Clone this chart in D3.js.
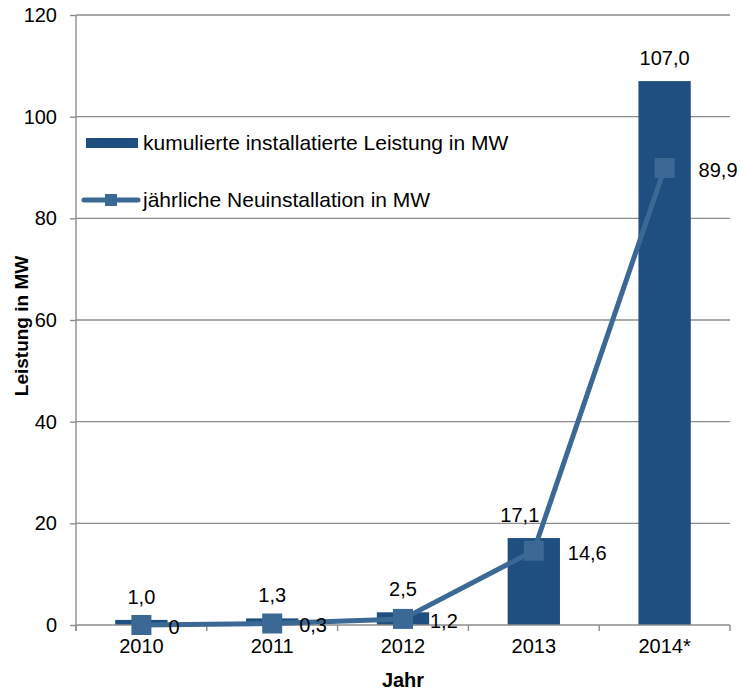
<!DOCTYPE html>
<html>
<head>
<meta charset="utf-8">
<script src="https://cdn.jsdelivr.net/npm/d3@7"></script>
<style>
  body { margin: 0; background: #fff; }
  text { font-family: "Liberation Sans", Arial, sans-serif; fill: #000; }
</style>
</head>
<body>
<svg id="chart" width="741" height="692"></svg>
<script>
"use strict"

// Daten
const years = ["2010", "2011", "2012", "2013", "2014*"]
const kumuliert = [1.0, 1.3, 2.5, 17.1, 107.0]
const neuinstallation = [0, 0.3, 1.2, 14.6, 89.9]
const yTicks = [0, 20, 40, 60, 80, 100, 120]
const legendLabels = ["kumulierte installatierte Leistung in MW", "jährliche Neuinstallation in MW"]

const margin = {top: 15, right: 11, bottom: 67, left: 76}
const width = 741 - margin.left - margin.right
const height = 692 - margin.top - margin.bottom

const barColor = "#1f4e80"
const lineColor = "#3b6894"
const gridColor = "#8c8c8c"

const de = d3.formatLocale({decimal: ",", thousands: ".", grouping: [3], currency: ["", " €"]})
const fmtBar = de.format(".1f")
const fmtLine = de.format(".1~f")

const svg = d3.select("#chart")
const g = svg.append("g").attr("transform", "translate(" + margin.left + "," + margin.top + ")")

const x = d3.scaleBand().domain(years).range([0, width]).paddingInner(0).paddingOuter(0)
const y = d3.scaleLinear().domain([0, 120]).range([height, 0])
const barWidth = x.bandwidth() * 0.4

// Gitternetz
g.append("g")
    .selectAll("line")
    .data(yTicks.filter(d => d > 0))
    .enter()
    .append("line")
    .attr("x1", 0)
    .attr("x2", width)
    .attr("y1", d => y(d))
    .attr("y2", d => y(d))
    .style("stroke", gridColor)
    .style("stroke-width", 1.4)

// Balken
g.selectAll(".bar")
    .data(kumuliert)
    .enter()
    .append("rect")
    .attr("class", "bar")
    .attr("x", (d, i) => x(years[i]) + (x.bandwidth() - barWidth) / 2)
    .attr("width", barWidth)
    .attr("y", d => y(d))
    .attr("height", d => y(0) - y(d))
    .style("fill", barColor)

// Achsen
const yAxis = d3.axisLeft(y).tickValues(yTicks).tickSize(6).tickPadding(13)
g.append("g")
    .attr("class", "y axis")
    .call(yAxis)
    .call(a => a.select(".domain").attr("d", "M0,0V" + (height + 6)))

const xAxis = d3.axisBottom(x).tickSize(0).tickPadding(14)
g.append("g")
    .attr("class", "x axis")
    .attr("transform", "translate(0," + height + ")")
    .call(xAxis)
    .call(a => a.select(".domain").attr("d", "M0,0H" + width))

g.append("g")
    .attr("transform", "translate(0," + height + ")")
    .selectAll("line")
    .data(years.map(d => x(d)).concat([width]))
    .enter()
    .append("line")
    .attr("x1", d => d)
    .attr("x2", d => d)
    .attr("y1", 0)
    .attr("y2", 6)
    .style("stroke", gridColor)
    .style("stroke-width", 1.4)

svg.selectAll(".axis .domain, .axis .tick line")
    .style("stroke", gridColor)
    .style("stroke-width", 1.4)
svg.selectAll(".axis text")
    .style("font-size", "20px")
    .style("font-family", "'Liberation Sans', Arial, sans-serif")
    .style("fill", "#000")

// Linie
const line = d3.line()
    .x((d, i) => x(years[i]) + x.bandwidth() / 2)
    .y(d => y(d))

g.append("path")
    .datum(neuinstallation)
    .attr("d", line)
    .style("fill", "none")
    .style("stroke", lineColor)
    .style("stroke-width", 5)
    .style("stroke-linejoin", "round")

g.selectAll(".marker")
    .data(neuinstallation)
    .enter()
    .append("rect")
    .attr("class", "marker")
    .attr("x", (d, i) => x(years[i]) + x.bandwidth() / 2 - 10)
    .attr("y", d => y(d) - 10)
    .attr("width", 20)
    .attr("height", 20)
    .style("fill", lineColor)

// Beschriftungen
g.selectAll(".bar-label")
    .data(kumuliert)
    .enter()
    .append("text")
    .attr("class", "bar-label")
    .attr("x", (d, i) => x(years[i]) + x.bandwidth() / 2 - (i === 3 ? 14 : 0))
    .attr("y", d => y(d) - 16)
    .style("text-anchor", "middle")
    .style("font-size", "20px")
    .text(d => fmtBar(d))

g.selectAll(".line-label")
    .data(neuinstallation)
    .enter()
    .append("text")
    .attr("class", "line-label")
    .attr("x", (d, i) => x(years[i]) + x.bandwidth() / 2 + (i >= 3 ? 34 : 27))
    .attr("y", d => y(d) + 9)
    .style("text-anchor", "start")
    .style("font-size", "20px")
    .text(d => fmtLine(d))

// Achsentitel
svg.append("text")
    .attr("transform", "translate(" + 28 + "," + (margin.top + height / 2 + 6) + ") rotate(-90)")
    .style("text-anchor", "middle")
    .style("font-size", "19px")
    .style("font-weight", "bold")
    .text("Leistung in MW")

svg.append("text")
    .attr("x", margin.left + width / 2)
    .attr("y", 687)
    .style("text-anchor", "middle")
    .style("font-size", "20px")
    .style("font-weight", "bold")
    .text("Jahr")

// Legende
const legend = g.append("g").attr("transform", "translate(10,123)")
legend.append("rect")
    .attr("x", 0).attr("y", 0)
    .attr("width", 52).attr("height", 10)
    .style("fill", barColor)
legend.append("text")
    .attr("x", 57).attr("y", 12)
    .style("font-size", "21px")
    .text(legendLabels[0])

legend.append("line")
    .attr("x1", -2).attr("x2", 52)
    .attr("y1", 62).attr("y2", 62)
    .style("stroke", lineColor)
    .style("stroke-width", 5)
    .style("stroke-linecap", "round")
legend.append("rect")
    .attr("x", 19).attr("y", 56)
    .attr("width", 12).attr("height", 12)
    .style("fill", lineColor)
legend.append("text")
    .attr("x", 57).attr("y", 69)
    .style("font-size", "21px")
    .text(legendLabels[1])
</script>
</body>
</html>
